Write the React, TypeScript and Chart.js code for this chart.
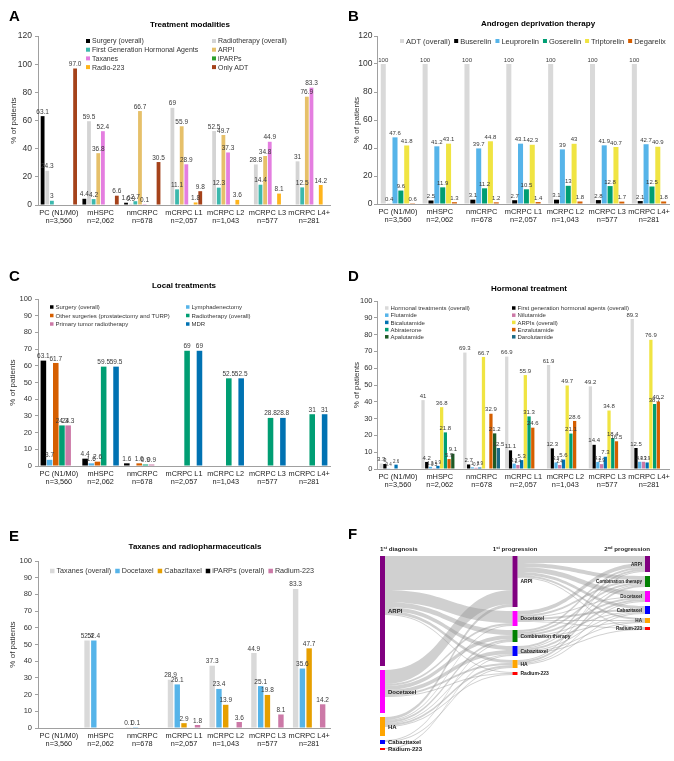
import React, { useEffect, useRef } from 'react';
import { Chart, registerables } from 'chart.js';
Chart.register(...registerables);

const FONT = "'Liberation Sans', Arial, Helvetica, sans-serif";
Chart.defaults.font.family = FONT;
Chart.defaults.color = '#333';
const AXIS = '#a0a0a0';

// ---------- shared categories ----------
const CATEGORIES = ['PC (N1/M0)', 'mHSPC', 'nmCRPC', 'mCRPC L1', 'mCRPC L2', 'mCRPC L3', 'mCRPC L4+'];
const COHORT_N = ['n=3,560', 'n=2,062', 'n=678', 'n=2,057', 'n=1,043', 'n=577', 'n=281'];

// ---------- A: Treatment modalities ----------
const A_SURGERY = [63.1, 4.4, 1.6, null, null, null, null];
const A_RADIOTHERAPY = [24.3, 59.5, 0.9, 69, 52.5, 28.8, 31];
const A_FGHA = [3, 4.2, 2.7, 11.1, 12.3, 14.4, 12.5];
const A_ARPI = [null, 36.8, 66.7, 55.9, 49.7, 34.8, 76.9];
const A_TAXANES = [null, 52.4, 0.1, 28.9, 37.3, 44.9, 83.3];
const A_IPARPS = [null, null, null, null, null, null, null];
const A_RADIO223 = [null, null, null, 1.8, 3.6, 8.1, 14.2];
const A_ONLY_ADT = [97.0, 6.6, 30.5, 9.8, null, null, null];

// ---------- B: Androgen deprivation therapy ----------
const B_ADT = [100, 100, 100, 100, 100, 100, 100];
const B_BUSERELIN = [0.4, 2.5, 3.1, 2.7, 3.1, 2.8, 2.1];
const B_LEUPRORELIN = [47.6, 41.2, 39.7, 43.1, 39, 41.9, 42.7];
const B_GOSERELIN = [9.6, 11.9, 11.2, 10.5, 13, 12.8, 12.5];
const B_TRIPTORELIN = [41.8, 43.1, 44.8, 42.3, 43, 40.7, 40.9];
const B_DEGARELIX = [0.6, 1.3, 1.2, 1.4, 1.8, 1.7, 1.8];

// ---------- C: Local treatments ----------
const C_SURGERY = [63.1, 4.4, 1.6, null, null, null, null];
const C_LYMPH = [3.7, 1.6, null, null, null, null, null];
const C_OTHER_SURG = [61.7, 2.6, 1.6, null, null, null, null];
const C_RADIOTHERAPY = [24.3, 59.5, 0.9, 69, 52.5, 28.8, 31];
const C_PRIMARY_RT = [24.3, null, 0.9, null, null, null, null];
const C_MDR = [null, 59.5, null, 69, 52.5, 28.8, 31];

// ---------- D: Hormonal treatment ----------
const D_HORMONAL = [3.3, 41, 69.3, 66.9, 61.9, 49.2, 89.3];
const D_FGHA = [3, 4.2, 2.7, 11.1, 12.3, 14.4, 12.5];
const D_FLUTAMIDE = [0.4, 1.3, 1.0, 3.2, 3.9, 4.2, 4.3];
const D_NILUTAMIDE = [null, 0.5, 0.7, 2.4, 2.4, 2.9, 4.3];
const D_BICALUTAMIDE = [2.6, 1.9, 0.9, 5.3, 5.6, 7.3, 3.9];
const D_ARPIS = [null, 36.8, 66.7, 55.9, 49.7, 34.8, 76.9];
const D_ABIRATERONE = [null, 21.8, null, 31.3, 21.1, 18.4, 38.7];
const D_ENZALUTAMIDE = [null, 5.9, 32.9, 24.6, 28.6, 16.5, 40.2];
const D_APALUTAMIDE = [null, 9.1, 21.2, null, null, null, null];
const D_DAROLUTAMIDE = [null, null, 12.5, null, null, null, null];

// ---------- E: Taxanes and radiopharmaceuticals ----------
const E_TAXANES = [null, 52.4, 0.1, 28.9, 37.3, 44.9, 83.3];
const E_DOCETAXEL = [null, 52.4, 0.1, 26.1, 23.4, 25.1, 35.6];
const E_CABAZITAXEL = [null, null, null, 2.9, 13.9, 19.8, 47.7];
const E_IPARPS = [null, null, null, null, null, null, null];
const E_RADIUM = [null, null, null, 1.8, 3.6, 8.1, 14.2];

// ---------- F: Sankey ----------
const SK_HEADERS: [string, string, string][] = [
  ['1', 'st', ' diagnosis'],
  ['1', 'st', ' progression'],
  ['2', 'nd', ' progression'],
];
const SK_NODES_0 = ['ARPI', 'Docetaxel', 'HA', 'Cabazitaxel', 'Radium-223'];
const SK_NODES_1 = ['ARPI', 'Docetaxel', 'Combination therapy', 'Cabazitaxel', 'HA', 'Radium-223'];
const SK_NODES_2 = ['ARPI', 'Combination therapy', 'Docetaxel', 'Cabazitaxel', 'HA', 'Radium-223'];
const SK_VAL_0 = [110, 43, 19, 4, 2];
const SK_VAL_1 = [51, 15, 12, 10, 8, 3];
const SK_VAL_2 = [16, 11, 11, 8, 5, 3];
const SK_GAP = 4;
// [source index, target index, value]
const SK_FLOW_01: [number, number, number][] = [
  [0, 0, 34], [0, 1, 12], [0, 2, 5], [0, 3, 4], [0, 4, 3], [0, 5, 1],
  [1, 0, 14], [1, 1, 2], [1, 2, 4], [1, 3, 4], [1, 4, 2], [1, 5, 1],
  [2, 0, 3], [2, 1, 1], [2, 2, 2], [2, 3, 1], [2, 4, 2], [2, 5, 1],
  [3, 2, 1], [3, 4, 1], [4, 3, 1],
];
const SK_FLOW_12: [number, number, number][] = [
  [0, 0, 7], [0, 1, 4], [0, 2, 5], [0, 3, 3], [0, 4, 2], [0, 5, 1],
  [1, 0, 4], [1, 1, 2], [1, 2, 1], [1, 3, 2], [1, 4, 1], [1, 5, 1],
  [2, 0, 2], [2, 1, 2], [2, 2, 2], [2, 3, 1], [2, 4, 1],
  [3, 0, 2], [3, 1, 1], [3, 2, 2], [3, 3, 1], [3, 4, 1], [3, 5, 1],
  [4, 0, 1], [4, 1, 2], [4, 2, 1], [4, 3, 1],
];
const NODE_COLORS: Record<string, string> = {
  ARPI: '#800080',
  Docetaxel: '#ff00ff',
  'Combination therapy': '#008000',
  Cabazitaxel: '#0000ff',
  HA: '#ffa500',
  'Radium-223': '#ff0000',
};

// ---------- types ----------
type Series = { label: string; color: string; data: (number | null)[]; decimals?: number };
type LegendSpec =
  | { mode: 'grid'; cols: number[]; y0: number; dy: number; box: number; size: number }
  | { mode: 'row'; x0: number; y: number; gap: number; box: number; size: number };
type BarSpec = {
  w: number; h: number;
  area: { l: number; t: number; r: number; b: number };
  yMax: number; yStep: number;
  tickSize: number; tickPad: number; yTitleX: number;
  catSize: number; catPct: number; barPct: number;
  labelSize: number; smallSize?: number; smallRule?: (di: number, v: number) => boolean;
  series: Series[];
  legend: LegendSpec;
};

function valueLabelPlugin(s: BarSpec) {
  return {
    id: 'valueLabels',
    afterDatasetsDraw(chart: any) {
      const ctx = chart.ctx;
      ctx.save();
      ctx.textAlign = 'center';
      ctx.textBaseline = 'bottom';
      ctx.fillStyle = '#3a3a3a';
      s.series.forEach((se, di) => {
        const meta = chart.getDatasetMeta(di);
        meta.data.forEach((el: any, i: number) => {
          const v = se.data[i];
          if (v == null) return;
          const txt = se.decimals != null ? v.toFixed(se.decimals) : String(v);
          const small = s.smallRule ? s.smallRule(di, v) : false;
          ctx.font = `${small ? s.smallSize : s.labelSize}px ${FONT}`;
          ctx.fillText(txt, el.x, el.y - 1);
        });
      });
      ctx.restore();
    },
  };
}

function legendPlugin(s: BarSpec) {
  return {
    id: 'panelLegend',
    afterDraw(chart: any) {
      const ctx = chart.ctx;
      const L = s.legend;
      ctx.save();
      ctx.font = `${L.size}px ${FONT}`;
      ctx.textBaseline = 'middle';
      ctx.textAlign = 'left';
      let cx = L.mode === 'row' ? L.x0 : 0;
      s.series.forEach((se, i) => {
        let bx: number, y: number;
        if (L.mode === 'grid') {
          bx = L.cols[i % L.cols.length];
          y = L.y0 + Math.floor(i / L.cols.length) * L.dy;
        } else {
          bx = cx;
          y = L.y;
        }
        ctx.fillStyle = se.color;
        ctx.fillRect(bx, y - L.box / 2, L.box, L.box);
        ctx.fillStyle = '#333';
        ctx.fillText(se.label, bx + L.box + 2, y + 0.5);
        if (L.mode === 'row') cx = bx + L.box + 2 + ctx.measureText(se.label).width + L.gap;
      });
      ctx.restore();
    },
  };
}

function buildBar(canvas: HTMLCanvasElement, s: BarSpec) {
  const titleFont = 8;
  return new Chart(canvas, {
    type: 'bar',
    data: {
      labels: CATEGORIES.map((c, i) => [c, COHORT_N[i]]),
      datasets: s.series.map((se) => ({
        label: se.label,
        data: se.data as any,
        backgroundColor: se.color,
        borderWidth: 0,
        categoryPercentage: s.catPct,
        barPercentage: s.barPct,
      })),
    },
    options: {
      responsive: false,
      animation: false,
      devicePixelRatio: 1,
      layout: { padding: { left: 0, top: s.area.t, right: s.w - s.area.r, bottom: 0 } },
      plugins: { legend: { display: false }, tooltip: { enabled: false }, title: { display: false } },
      scales: {
        x: {
          grid: { display: false, drawTicks: false },
          border: { display: true, color: AXIS },
          ticks: {
            color: '#222',
            font: { size: s.catSize, family: FONT, lineHeight: 1.1 },
            padding: 4,
            maxRotation: 0,
            autoSkip: false,
          },
          afterFit: (sc: any) => { sc.height = s.h - s.area.b; },
        },
        y: {
          min: 0,
          max: s.yMax,
          ticks: { stepSize: s.yStep, color: '#333', font: { size: s.tickSize, family: FONT }, padding: s.tickPad },
          grid: { display: true, drawOnChartArea: false, drawTicks: true, tickLength: 3, color: AXIS },
          border: { display: true, color: AXIS },
          title: {
            display: true,
            text: '% of patients',
            color: '#333',
            font: { size: titleFont, family: FONT },
            padding: { top: s.yTitleX - titleFont * 0.6, bottom: 0 },
          },
          afterFit: (sc: any) => { sc.width = s.area.l; },
        },
      },
    } as any,
    plugins: [valueLabelPlugin(s), legendPlugin(s)],
  });
}

function BarPanel({ spec, x, y }: { spec: BarSpec; x: number; y: number }) {
  const ref = useRef<HTMLCanvasElement>(null);
  useEffect(() => {
    const chart = buildBar(ref.current!, spec);
    return () => chart.destroy();
  }, []);
  return (
    <canvas ref={ref} width={spec.w} height={spec.h}
      style={{ position: 'absolute', left: x, top: y, width: spec.w, height: spec.h }} />
  );
}

// ---------- Sankey ----------
function sankeyPlugin() {
  return {
    id: 'sankey',
    afterDraw(chart: any) {
      const xs = chart.scales.x;
      const ys = chart.scales.y;
      const ctx = chart.ctx;
      const cols = [SK_NODES_0, SK_NODES_1, SK_NODES_2];
      const vals = [SK_VAL_0, SK_VAL_1, SK_VAL_2];
      const flows = [SK_FLOW_01, SK_FLOW_12];
      const NW = 5;
      const pos = cols.map((names, c) => {
        let acc = 0;
        const cx = xs.getPixelForValue(c);
        const x0 = c === 0 ? cx : c === 2 ? cx - NW : cx - NW / 2;
        return names.map((n, i) => {
          const top = acc;
          acc += vals[c][i] + SK_GAP;
          return {
            name: n, x0, x1: x0 + NW,
            y0: ys.getPixelForValue(top),
            y1: ys.getPixelForValue(top + vals[c][i]),
            outOff: 0, inOff: 0,
          };
        });
      });
      const unit = Math.abs(ys.getPixelForValue(1) - ys.getPixelForValue(0));
      ctx.save();
      ctx.fillStyle = 'rgba(150,150,150,0.45)';
      flows.forEach((fl, c) => {
        fl.forEach(([a, b, v]) => {
          const s = pos[c][a];
          const t = pos[c + 1][b];
          const th = v * unit;
          const sy = s.y0 + s.outOff; s.outOff += th;
          const ty = t.y0 + t.inOff; t.inOff += th;
          const x0 = s.x1, x1 = t.x0, xm = (x0 + x1) / 2;
          ctx.beginPath();
          ctx.moveTo(x0, sy);
          ctx.bezierCurveTo(xm, sy, xm, ty, x1, ty);
          ctx.lineTo(x1, ty + th);
          ctx.bezierCurveTo(xm, ty + th, xm, sy + th, x0, sy + th);
          ctx.closePath();
          ctx.fill();
        });
      });
      // nodes
      pos.forEach((col) => col.forEach((n) => {
        ctx.fillStyle = NODE_COLORS[n.name];
        ctx.fillRect(n.x0, n.y0, n.x1 - n.x0, n.y1 - n.y0);
      }));
      // labels
      ctx.fillStyle = '#222';
      ctx.textBaseline = 'middle';
      const sizes = [6, 5, 4.6];
      pos.forEach((col, c) => col.forEach((n) => {
        ctx.font = `bold ${sizes[c]}px ${FONT}`;
        const yc = (n.y0 + n.y1) / 2 + 0.5;
        if (c === 2) { ctx.textAlign = 'right'; ctx.fillText(n.name, n.x0 - 3, yc); }
        else { ctx.textAlign = 'left'; ctx.fillText(n.name, n.x1 + 3, yc); }
      }));
      // headers with superscripts
      const hy = chart.chartArea.top - 5;
      ctx.textBaseline = 'alphabetic';
      ctx.textAlign = 'left';
      SK_HEADERS.forEach((parts, c) => {
        const big = `bold 6.2px ${FONT}`;
        const small = `bold 4px ${FONT}`;
        ctx.font = big; const w0 = ctx.measureText(parts[0]).width; const w2 = ctx.measureText(parts[2]).width;
        ctx.font = small; const w1 = ctx.measureText(parts[1]).width;
        const total = w0 + w1 + w2;
        const ref = pos[c][0];
        let x = c === 0 ? ref.x0 : c === 1 ? (ref.x0 + ref.x1) / 2 - total / 2 : ref.x1 - total;
        ctx.font = big; ctx.fillText(parts[0], x, hy); x += w0;
        ctx.font = small; ctx.fillText(parts[1], x, hy - 2.5); x += w1;
        ctx.font = big; ctx.fillText(parts[2], x, hy);
      });
      ctx.restore();
    },
  };
}

function SankeyPanel({ x, y }: { x: number; y: number }) {
  const ref = useRef<HTMLCanvasElement>(null);
  const W = 337, H = 239;
  useEffect(() => {
    const total = SK_VAL_0.reduce((a, b) => a + b, 0) + SK_GAP * (SK_VAL_0.length - 1);
    const chart = new Chart(ref.current!, {
      type: 'scatter',
      data: { datasets: [] },
      options: {
        responsive: false,
        animation: false,
        devicePixelRatio: 1,
        layout: { padding: { left: 43, right: 24, top: 34, bottom: 11 } },
        plugins: { legend: { display: false }, tooltip: { enabled: false } },
        scales: {
          x: { type: 'linear', min: 0, max: 2, display: false },
          y: { type: 'linear', min: 0, max: total, reverse: true, display: false },
        },
      } as any,
      plugins: [sankeyPlugin()],
    });
    return () => chart.destroy();
  }, []);
  return (
    <canvas ref={ref} width={W} height={H}
      style={{ position: 'absolute', left: x, top: y, width: W, height: H }} />
  );
}

// ---------- panel specs ----------
const SPEC_A: BarSpec = {
  w: 337, h: 232, area: { l: 38, t: 36, r: 330, b: 205 },
  yMax: 120, yStep: 20, tickSize: 8.5, tickPad: 3, yTitleX: 13.5,
  catSize: 7.4, catPct: 0.89, barPct: 0.82, labelSize: 6.5,
  series: [
    { label: 'Surgery (overall)', color: '#000000', data: A_SURGERY },
    { label: 'Radiotherapy (overall)', color: '#d4d4d4', data: A_RADIOTHERAPY },
    { label: 'First Generation Hormonal Agents', color: '#3cb8ad', data: A_FGHA },
    { label: 'ARPI', color: '#e6c06a', data: A_ARPI },
    { label: 'Taxanes', color: '#e47ee0', data: A_TAXANES },
    { label: 'iPARPs', color: '#2ca02c', data: A_IPARPS },
    { label: 'Radio-223', color: '#ffb41c', data: A_RADIO223 },
    { label: 'Only ADT', color: '#a5421a', data: A_ONLY_ADT, decimals: 1 },
  ],
  legend: { mode: 'grid', cols: [86, 212], y0: 41, dy: 8.7, box: 4, size: 7 },
};

const SPEC_B: BarSpec = {
  w: 337, h: 232, area: { l: 40, t: 36, r: 335, b: 204 },
  yMax: 120, yStep: 20, tickSize: 8.5, tickPad: 1.5, yTitleX: 20,
  catSize: 7.4, catPct: 0.84, barPct: 0.86, labelSize: 6,
  series: [
    { label: 'ADT (overall)', color: '#d9d9d9', data: B_ADT },
    { label: 'Buserelin', color: '#000000', data: B_BUSERELIN },
    { label: 'Leuprorelin', color: '#56b4e9', data: B_LEUPRORELIN },
    { label: 'Goserelin', color: '#009e73', data: B_GOSERELIN },
    { label: 'Triptorelin', color: '#f0e442', data: B_TRIPTORELIN },
    { label: 'Degarelix', color: '#d55e00', data: B_DEGARELIX },
  ],
  legend: { mode: 'row', x0: 63, y: 41, gap: 4, box: 4, size: 7.5 },
};

const SPEC_C: BarSpec = {
  w: 337, h: 232, area: { l: 38, t: 37, r: 330, b: 204 },
  yMax: 100, yStep: 10, tickSize: 7.5, tickPad: 3, yTitleX: 12.5,
  catSize: 7.3, catPct: 0.89, barPct: 0.9, labelSize: 6.5,
  series: [
    { label: 'Surgery (overall)', color: '#000000', data: C_SURGERY },
    { label: 'Lymphadenectomy', color: '#56b4e9', data: C_LYMPH },
    { label: 'Other surgeries (prostatectomy and TURP)', color: '#d55e00', data: C_OTHER_SURG },
    { label: 'Radiotherapy (overall)', color: '#009e73', data: C_RADIOTHERAPY },
    { label: 'Primary tumor radiotherapy', color: '#cc79a7', data: C_PRIMARY_RT },
    { label: 'MDR', color: '#0072b2', data: C_MDR },
  ],
  legend: { mode: 'grid', cols: [50, 186], y0: 45, dy: 8.5, box: 3.5, size: 6 },
};

const SPEC_D: BarSpec = {
  w: 337, h: 232, area: { l: 40, t: 39, r: 335, b: 207 },
  yMax: 100, yStep: 10, tickSize: 7.5, tickPad: 1.5, yTitleX: 20,
  catSize: 7.4, catPct: 0.89, barPct: 0.88, labelSize: 6, smallSize: 4.5,
  smallRule: (di, v) => di >= 2 && v < 5,
  series: [
    { label: 'Hormonal treatments (overall)', color: '#d9d9d9', data: D_HORMONAL },
    { label: 'First generation hormonal agents (overall)', color: '#000000', data: D_FGHA },
    { label: 'Flutamide', color: '#56b4e9', data: D_FLUTAMIDE },
    { label: 'Nilutamide', color: '#cc79a7', data: D_NILUTAMIDE },
    { label: 'Bicalutamide', color: '#0072b2', data: D_BICALUTAMIDE },
    { label: 'ARPIs (overall)', color: '#f0e442', data: D_ARPIS },
    { label: 'Abiraterone', color: '#009e73', data: D_ABIRATERONE },
    { label: 'Enzalutamide', color: '#d55e00', data: D_ENZALUTAMIDE },
    { label: 'Apalutamide', color: '#1e5a26', data: D_APALUTAMIDE },
    { label: 'Darolutamide', color: '#1c6a86', data: D_DAROLUTAMIDE },
  ],
  legend: { mode: 'grid', cols: [48, 175], y0: 46, dy: 7.2, box: 3.5, size: 6 },
};

const SPEC_E: BarSpec = {
  w: 337, h: 239, area: { l: 38, t: 39, r: 330, b: 206 },
  yMax: 100, yStep: 10, tickSize: 7.5, tickPad: 3, yTitleX: 12.5,
  catSize: 7.3, catPct: 0.81, barPct: 0.8, labelSize: 6.5,
  series: [
    { label: 'Taxanes (overall)', color: '#d9d9d9', data: E_TAXANES },
    { label: 'Docetaxel', color: '#56b4e9', data: E_DOCETAXEL },
    { label: 'Cabazitaxel', color: '#e69f00', data: E_CABAZITAXEL },
    { label: 'iPARPs (overall)', color: '#000000', data: E_IPARPS },
    { label: 'Radium-223', color: '#cc79a7', data: E_RADIUM },
  ],
  legend: { mode: 'row', x0: 50, y: 49, gap: 4, box: 4.5, size: 7.2 },
};

function Txt({ x, y, size, bold, center, children }: any) {
  return (
    <div style={{
      position: 'absolute', left: x, top: y, fontSize: size, fontWeight: bold ? 700 : 400,
      lineHeight: `${size}px`, whiteSpace: 'nowrap', fontFamily: FONT, color: '#000',
      transform: center ? 'translateX(-50%)' : undefined,
    }}>{children}</div>
  );
}

export default function App() {
  return (
    <div style={{ position: 'absolute', left: 0, top: 0, width: 674, height: 761, background: '#fff', overflow: 'hidden' }}>
      <BarPanel spec={SPEC_A} x={0} y={0} />
      <BarPanel spec={SPEC_B} x={337} y={0} />
      <BarPanel spec={SPEC_C} x={0} y={262} />
      <BarPanel spec={SPEC_D} x={337} y={262} />
      <BarPanel spec={SPEC_E} x={0} y={522} />
      <SankeyPanel x={337} y={522} />

      <Txt x={9} y={8} size={15} bold>A</Txt>
      <Txt x={348} y={8} size={15} bold>B</Txt>
      <Txt x={9} y={268} size={15} bold>C</Txt>
      <Txt x={348} y={268} size={15} bold>D</Txt>
      <Txt x={9} y={528} size={15} bold>E</Txt>
      <Txt x={348} y={526} size={15} bold>F</Txt>

      <Txt x={190} y={21} size={8} bold center>Treatment modalities</Txt>
      <Txt x={538} y={20} size={8} bold center>Androgen deprivation therapy</Txt>
      <Txt x={184} y={282} size={8} bold center>Local treatments</Txt>
      <Txt x={529} y={285} size={8} bold center>Hormonal treatment</Txt>
      <Txt x={195} y={543} size={8} bold center>Taxanes and radiopharmaceuticals</Txt>
    </div>
  );
}
